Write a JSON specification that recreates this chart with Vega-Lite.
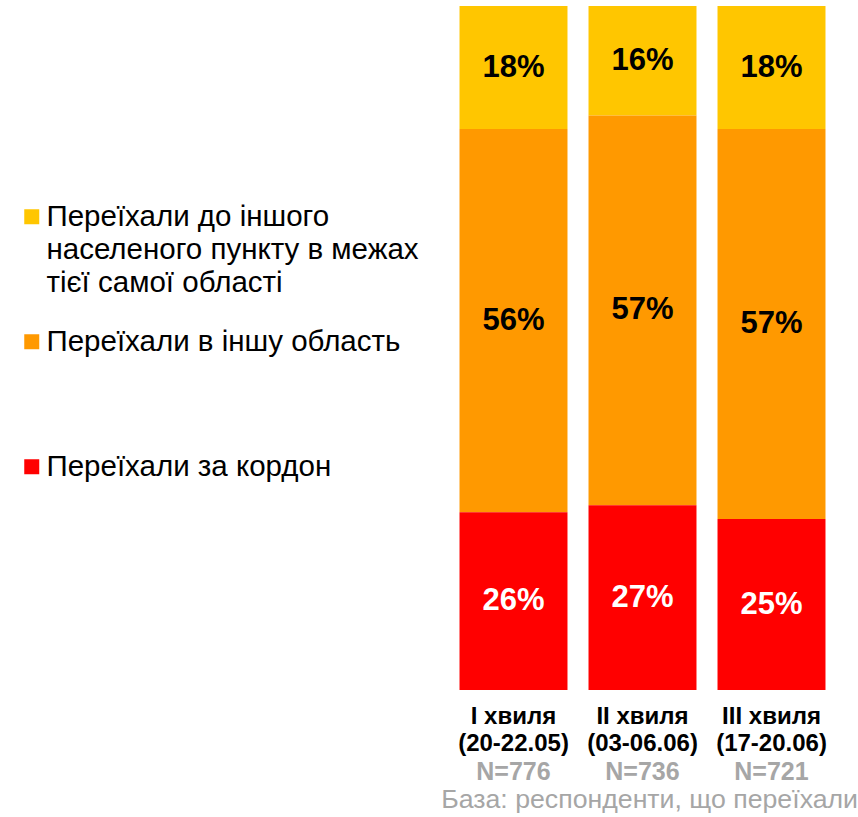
{
  "$schema": "https://vega.github.io/schema/vega-lite/v6.json",
  "width": 387,
  "height": 684,
  "autosize": "none",
  "padding": {"left": 449, "top": 6, "right": 22, "bottom": 127},
  "background": "white",
  "config": {
    "view": {"stroke": null},
    "font": "Liberation Sans",
    "text": {"font": "Liberation Sans"},
    "style": {"guide-label": {"lineHeight": 33}}
  },
  "title": {
    "text": "База: респонденти, що переїхали",
    "orient": "bottom",
    "anchor": "end",
    "fontSize": 26.7,
    "fontWeight": "normal",
    "color": "#A6A6A6",
    "font": "Liberation Sans",
    "offset": 3,
    "dx": 22
  },
  "data": {
    "values": [
      {"wave": "I хвиля|(20-22.05)|N=776", "cat": "Переїхали до іншого населеного пункту в межах тієї самої області", "rank": 3, "value": 18},
      {"wave": "I хвиля|(20-22.05)|N=776", "cat": "Переїхали в іншу область", "rank": 2, "value": 56},
      {"wave": "I хвиля|(20-22.05)|N=776", "cat": "Переїхали за кордон", "rank": 1, "value": 26},
      {"wave": "II хвиля|(03-06.06)|N=736", "cat": "Переїхали до іншого населеного пункту в межах тієї самої області", "rank": 3, "value": 16},
      {"wave": "II хвиля|(03-06.06)|N=736", "cat": "Переїхали в іншу область", "rank": 2, "value": 57},
      {"wave": "II хвиля|(03-06.06)|N=736", "cat": "Переїхали за кордон", "rank": 1, "value": 27},
      {"wave": "III хвиля|(17-20.06)|N=721", "cat": "Переїхали до іншого населеного пункту в межах тієї самої області", "rank": 3, "value": 18},
      {"wave": "III хвиля|(17-20.06)|N=721", "cat": "Переїхали в іншу область", "rank": 2, "value": 57},
      {"wave": "III хвиля|(17-20.06)|N=721", "cat": "Переїхали за кордон", "rank": 1, "value": 25}
    ]
  },
  "transform": [
    {"stack": "value", "groupby": ["wave"], "sort": [{"field": "rank", "order": "ascending"}], "as": ["y0", "y1"]},
    {"calculate": "(datum.y0 + datum.y1) / 2", "as": "ymid"},
    {"calculate": "datum.value + '%'", "as": "label"}
  ],
  "encoding": {
    "x": {
      "field": "wave",
      "type": "nominal",
      "sort": null,
      "scale": {"paddingInner": 0.163, "paddingOuter": 0.0815}
    }
  },
  "layer": [
    {
      "mark": {"type": "bar"},
      "encoding": {
        "x": {
          "field": "wave",
          "type": "nominal",
          "sort": null,
          "title": null,
          "axis": {
            "orient": "bottom",
            "domain": false,
            "ticks": false,
            "labelAngle": 0,
            "labelPadding": 14,
            "labelFontSize": 24,
            "labelFontWeight": "bold",
            "labelColor": "black",
            "labelFont": "Liberation Sans",
            "labelLineHeight": 27,
            "labelLimit": 300,
            "labelExpr": "[split(datum.value, '|')[0], split(datum.value, '|')[1]]"
          }
        },
        "y": {"field": "y0", "type": "quantitative", "scale": {"domain": [0, 100]}, "axis": null},
        "y2": {"field": "y1"},
        "color": {
          "field": "cat",
          "type": "nominal",
          "scale": {
            "domain": ["Переїхали до іншого населеного пункту в межах тієї самої області", "Переїхали в іншу область", "Переїхали за кордон"],
            "range": ["#FFC600", "#FF9900", "#FF0000"]
          },
          "legend": {
            "title": null,
            "orient": "none",
            "legendX": -432,
            "legendY": 196,
            "symbolType": "square",
            "symbolSize": 225,
            "symbolStrokeWidth": 0,
            "labelFontSize": 29.5,
            "labelFont": "Liberation Sans",
            "labelColor": "black",
            "labelLimit": 500,
            "labelOffset": 0,
            "labelBaseline": "middle",
            "rowPadding": 28,
            "padding": 0,
            "labelExpr": "datum.label == 'Переїхали до іншого населеного пункту в межах тієї самої області' ? ['Переїхали до іншого', 'населеного пункту в межах', 'тієї самої області'] : [datum.label, '', '']"
          }
        }
      }
    },
    {
      "mark": {"type": "text", "fontSize": 31, "fontWeight": "bold", "font": "Liberation Sans", "baseline": "middle"},
      "encoding": {
        "x": {
          "field": "wave",
          "type": "nominal",
          "sort": null,
          "title": null,
          "axis": {
            "orient": "bottom",
            "domain": false,
            "ticks": false,
            "labelAngle": 0,
            "labelPadding": 69,
            "labelFontSize": 25,
            "labelFontWeight": "bold",
            "labelColor": "#A6A6A6",
            "labelFont": "Liberation Sans",
            "labelLimit": 300,
            "labelExpr": "split(datum.value, '|')[2]"
          }
        },
        "y": {"field": "ymid", "type": "quantitative", "scale": {"domain": [0, 100]}, "axis": null},
        "text": {"field": "label"},
        "color": {
          "condition": {"test": "datum.cat === 'Переїхали за кордон'", "value": "white"},
          "value": "black"
        }
      }
    }
  ],
  "resolve": {"axis": {"x": "independent"}}
}
